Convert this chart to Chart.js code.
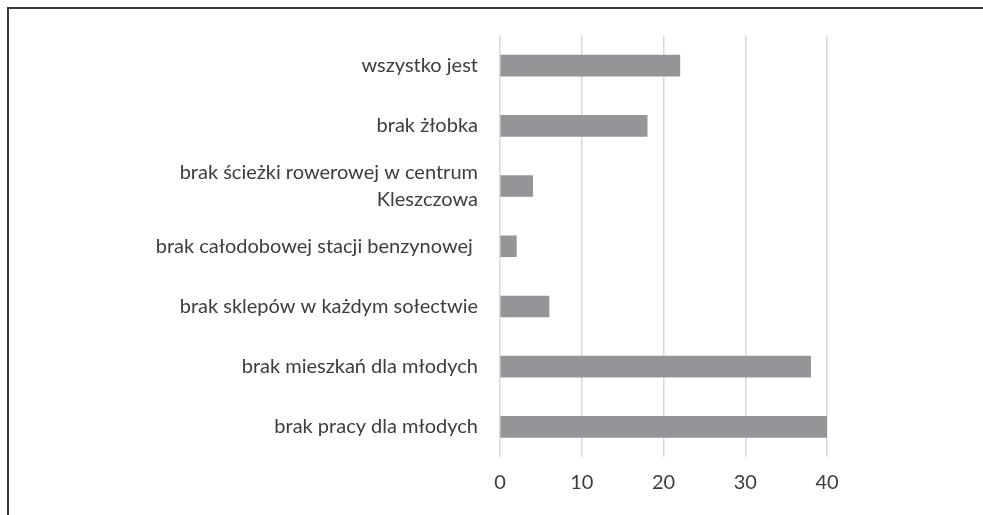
<!DOCTYPE html>
<html>
<head>
<meta charset="utf-8">
<script src="https://cdn.jsdelivr.net/npm/chart.js@4/dist/chart.umd.min.js"></script>
<style>
  html, body { margin: 0; padding: 0; background: #fff; }
  #wrap { position: relative; width: 983px; height: 515px; }
  #frame { position: absolute; left: 7px; top: 7px; right: 0; bottom: 0;
           border-left: 2px solid #3a3a3a; border-top: 2px solid #3a3a3a; }
  canvas { position: absolute; left: 0; top: 0; }
</style>
</head>
<body>
<div id="wrap">
  <div id="frame"></div>
  <canvas id="myChart" width="983" height="515"></canvas>
</div>
<script>
/* chart data */
const categories = [
    'wszystko jest',
    'brak żłobka',
    ['brak ścieżki rowerowej w centrum', 'Kleszczowa'],
    'brak całodobowej stacji benzynowej ',
    'brak sklepów w każdym sołectwie',
    'brak mieszkań dla młodych',
    'brak pracy dla młodych'
]
const values = [22, 18, 4, 2, 6, 38, 40]
const xTicks = [0, 10, 20, 30, 40]

const fontFamily = 'Lato, "Open Sans", sans-serif'
const textColor = '#3d3d3d'

const ctx = document.getElementById('myChart')
const chart = new Chart(ctx, {
    type: 'bar',
    data: {
        labels: categories,
        datasets: [{
            data: values,
            backgroundColor: '#939598',
            borderWidth: 0,
            barThickness: 21
        }]
    },
    options: {
        indexAxis: 'y',
        responsive: false,
        animation: false,
        layout: {
            padding: { top: 29, right: 156, bottom: 0, left: 0 }
        },
        plugins: {
            legend: { display: false },
            tooltip: { enabled: false }
        },
        scales: {
            x: {
                min: xTicks[0],
                max: xTicks[xTicks.length - 1],
                afterBuildTicks: function (scale) {
                    scale.ticks = xTicks.map(v => ({ value: v }))
                },
                grid: { color: '#d9d9d9', lineWidth: 1.5, drawTicks: false },
                border: { display: false },
                ticks: {
                    padding: 14,
                    color: textColor,
                    font: { family: fontFamily, size: 20 }
                },
                afterFit: function (scale) {
                    scale.height = 58
                }
            },
            y: {
                grid: { display: false, drawTicks: false },
                border: { display: false },
                ticks: {
                    padding: 22,
                    color: textColor,
                    font: { family: fontFamily, size: 20, lineHeight: 1.35 }
                },
                afterFit: function (scale) {
                    scale.width = 500
                }
            }
        }
    }
})
</script>
</body>
</html>
